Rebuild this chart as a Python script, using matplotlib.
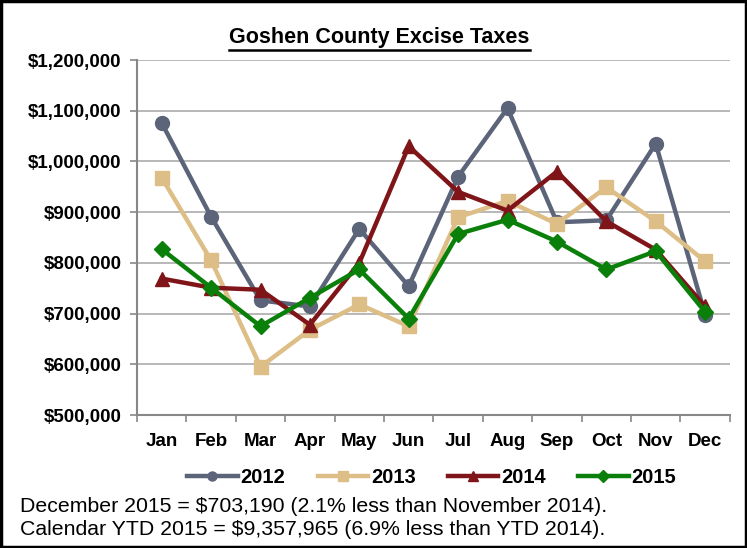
import matplotlib
matplotlib.use("Agg")
import matplotlib.pyplot as plt
from matplotlib.patches import Rectangle
from matplotlib.ticker import FuncFormatter, FixedLocator
import numpy as np

months = ["Jan", "Feb", "Mar", "Apr", "May", "Jun", "Jul", "Aug", "Sep", "Oct", "Nov", "Dec"]
v2012 = [1076000, 891000, 726000, 714000, 867000, 754000, 970000, 1105000, 880000, 884000, 1035000, 698000]
v2013 = [968000, 805000, 595000, 668000, 718000, 675000, 890000, 922000, 877000, 949000, 882000, 803000]
v2014 = [769000, 751000, 747000, 678000, 800000, 1030000, 940000, 903000, 980000, 882000, 826000, 714000]
v2015 = [827000, 751000, 675000, 731000, 787000, 690000, 857000, 885000, 842000, 787000, 823000, 703190]
series = [("2012", v2012, "#5B6478", "o", 10),
          ("2013", v2013, "#DDBE86", "s", 10),
          ("2014", v2014, "#7F1518", "^", 10),
          ("2015", v2015, "#0A800A", "D", 8)]
title = "Goshen County Excise Taxes"
notes = ["December 2015 = $703,190 (2.1% less than November 2014).",
         "Calendar YTD 2015 = $9,357,965 (6.9% less than YTD 2014)."]

plt.rcParams['font.family'] = ['Liberation Sans', 'DejaVu Sans']

fig = plt.figure(figsize=(7.47, 5.48), dpi=100)
ax = fig.add_axes([0.1834, 0.2427, 0.977 - 0.1834, 0.8905 - 0.2427])

x = np.arange(len(months))
for name, vals, col, mk, ms in series:
    ax.plot(x, vals, color=col, lw=3.2, marker=mk, markersize=ms,
            markerfacecolor=col, markeredgecolor=col, label=name, zorder=3)

ax.set_xlim(-0.5, 11.5)
ax.set_ylim(500000, 1200000)
ax.set_yticks(np.arange(500000, 1200001, 100000))
ax.yaxis.set_major_formatter(FuncFormatter(lambda v, p: "${:,.0f}".format(v)))
ax.set_xticks(x)
ax.set_xticklabels(months)
ax.xaxis.set_minor_locator(FixedLocator(np.arange(-0.5, 12, 1)))
ax.tick_params(axis='x', which='major', length=0, pad=13)
ax.tick_params(axis='x', which='minor', length=5, color="#878787", width=1.2, direction='out')
ax.tick_params(axis='y', length=5, color="#878787", width=1.2, pad=6)
for lab in ax.get_xticklabels() + ax.get_yticklabels():
    lab.set_fontweight('bold')
    lab.set_fontsize(13.5)
ax.grid(axis='y', color="#ABABAB", lw=1.2, zorder=0)
ax.set_axisbelow(True)
for s in ["top", "right"]:
    ax.spines[s].set_visible(False)
for s in ["left", "bottom"]:
    ax.spines[s].set_color("#878787")
    ax.spines[s].set_linewidth(1.5)

t = fig.text(0.508, 0.931, title, ha='center', va='center', fontsize=15.5,
             fontweight='bold')
fig.canvas.draw()
bb = t.get_window_extent().transformed(fig.transFigure.inverted())
fig.add_artist(plt.Line2D([bb.x0, bb.x1], [bb.y0 - 0.003, bb.y0 - 0.003],
                          transform=fig.transFigure, color='black', lw=1.8))

leg = fig.legend(loc='center', bbox_to_anchor=(0.578, 0.129), ncol=4, frameon=False,
                 handlelength=2.5, columnspacing=1.6, handletextpad=0.15,
                 prop={'weight': 'bold', 'size': 14.5})
for h in leg.legend_handles:
    h.set_markersize(6.5)

fig.text(0.027, 0.075, notes[0], ha='left', va='center', fontsize=15.3)
fig.text(0.027, 0.033, notes[1], ha='left', va='center', fontsize=15.3)

fig.add_artist(Rectangle((0.002, 0.002), 0.996, 0.996, transform=fig.transFigure,
                         fill=False, edgecolor='black', lw=2.5))

fig.savefig("out.png", dpi=100)
